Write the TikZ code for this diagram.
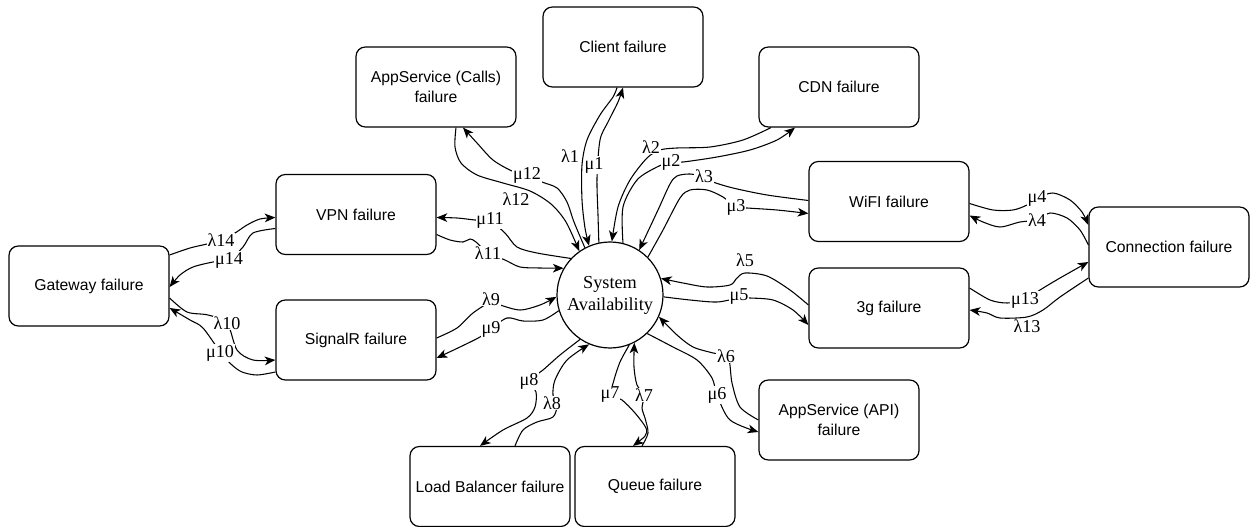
\documentclass[tikz,border=0pt]{standalone}
\usepackage{fontspec}
\setmainfont{Liberation Serif}
\newfontfamily\boxfont{Liberation Sans}
\usetikzlibrary{calc,arrows.meta}
\begin{document}
\begin{tikzpicture}[x=0.75pt,y=-0.75pt,
  box/.style={draw, line width=0.9pt, rounded corners=7pt, minimum width=120pt,
    minimum height=60pt, inner sep=2pt, align=center,
    font=\boxfont\fontsize{11.8}{15}\selectfont},
  sysnode/.style={draw, circle, line width=0.9pt, minimum size=79.5pt, inner sep=0pt,
    align=center, font=\fontsize{13.7}{16.5}\selectfont},
  edge/.style={line width=0.8pt, -{Stealth[length=8pt,width=6.5pt,inset=2.2pt]}},
  rate/.style={fill=white, inner sep=0.6pt, font=\fontsize{13.6}{15}\selectfont}]
\useasboundingbox (0,0) rectangle (1258,527);

% states
\node[box] (client) at (623,47) {Client failure};
\node[box] (calls) at (436,87) {AppService (Calls)\\failure};
\node[box] (cdn) at (839,87) {CDN failure};
\node[box] (vpn) at (356,214.5) {VPN failure};
\node[box] (wifi) at (889,201.5) {WiFI failure};
\node[box] (conn) at (1169,247) {Connection failure};
\node[box] (gw) at (89,286) {Gateway failure};
\node[box] (g3) at (889,308) {3g failure};
\node[box] (sigr) at (356,340) {SignalR failure};
\node[box] (api) at (839,420) {AppService (API)\\failure};
\node[box] (lb) at (490,486.5) {Load Balancer failure};
\node[box] (queue) at (655,486.5) {Queue failure};
\node[sysnode] (sys) at (610,295) {System\\Availability};

% transitions
\draw[edge] plot[smooth] coordinates {($(client.south)+(-6,0)$) (613,97) (600,115) (587,140) (582,165) (582,200) (585,228) (sys.113)};
\draw[edge] plot[smooth] coordinates {(sys.102) (598,215) (597,178) (600,140) (608,122) (618,102) (client.south)};

\draw[edge] plot[smooth] coordinates {($(calls.south)+(20,0)$) (455,147) (461,163) (477,175) (503,183) (530,191) (551,204) (566,222) (sys.125)};
\draw[edge] plot[smooth] coordinates {(sys.118) (574,222) (567,202) (557,188) (542,182) (527,175) (512,171) (493,160) (477,143) ($(calls.south)+(27,0)$)};

\draw[edge] plot[smooth] coordinates {($(cdn.south)+(-68,0)$) (743,140) (710,147) (677,148) (660,150) (647,158) (630,180) (618,207) (sys.88)};
\draw[edge] plot[smooth] coordinates {(sys.76) (623,207) (637,180) (657,167) (671,162) (683,162) (717,157) (750,150) (777,140) ($(cdn.south)+(-44,0)$)};

\draw[edge] plot[smooth] coordinates {($(wifi.west)+(0,-1)$) (767,195) (733,188) (713,182) (704,177) (690,174) (677,176) (670,184) (658,210) (sys.57)};
\draw[edge] plot[smooth] coordinates {(sys.45) (663,230) (680,198) (690,190) (707,190) (723,197) (736,207) (747,208) (777,210) ($(wifi.west)+(0,12)$)};

\draw[edge] plot[smooth] coordinates {($(vpn.east)+(0,20)$) (450,240) (463,242) (470,239) (476,242) (488,253) (505,260) (520,267) (540,268) (sys.150)};
\draw[edge] plot[smooth] coordinates {(sys.137) (537,253) (517,247) (505,233) (490,221) (475,220) (457,218) ($(vpn.east)+(0,3)$)};

\draw[edge] plot[smooth] coordinates {($(sigr.east)+(0,-2)$) (457,328) (473,313) (491,302) (500,305) (520,310) (540,305) (sys.182)};
\draw[edge] plot[smooth] coordinates {(sys.197) (543,320) (523,321) (507,318) (491,329) (480,337) (460,347) ($(sigr.east)+(0,18)$)};

\draw[edge] plot[smooth] coordinates {($(gw.east)+(0,-31)$) (190,248) (207,244) (221,240) (235,233) (247,225) (260,219) ($(vpn.west)+(0,3)$)};
\draw[edge] plot[smooth] coordinates {($(vpn.west)+(0,14)$) (253,233) (243,247) (229,260) (213,262) (193,267) (180,275) ($(gw.east)+(0,1)$)};

\draw[edge] plot[smooth] coordinates {($(gw.east)+(0,12)$) (187,312) (208,315) (227,323) (237,350) (253,360) ($(sigr.west)+(0,20)$)};
\draw[edge] plot[smooth] coordinates {($(sigr.west)+(0,32)$) (257,375) (242,372) (232,365) (221,353) (203,328) (190,320) ($(gw.east)+(0,22)$)};

\draw[edge] plot[smooth] coordinates {($(wifi.east)+(0,2)$) (993,210) (1013,210) (1027,205) (1037,198) (1053,193) (1070,200) (1082,212) ($(conn.west)+(0,-22)$)};
\draw[edge] plot[smooth] coordinates {($(conn.west)+(0,-2)$) (1080,230) (1067,218) (1050,213) (1037,220) (1020,222) (1000,227) (983,222) ($(wifi.east)+(0,14)$)};

\draw[edge] plot[smooth] coordinates {($(g3.east)+(0,-20)$) (990,300) (1007,303) (1025,300) (1040,290) (1060,278) ($(conn.west)+(0,15)$)};
\draw[edge] plot[smooth] coordinates {($(conn.west)+(0,31)$) (1060,297) (1043,310) (1027,317) (1000,318) (987,313) ($(g3.east)+(0,2)$)};

\draw[edge] plot[smooth] coordinates {($(g3.west)+(0,-3)$) (790,290) (767,276) (745,273) (737,278) (730,285) (707,287) (683,283) (sys.18)};
\draw[edge] plot[smooth] coordinates {(sys.358) (690,300) (717,302) (739,298) (750,298) (773,300) (793,310) ($(g3.west)+(0,17)$)};

\draw[edge] plot[smooth] coordinates {(api.west) (740,407) (732,383) (728,357) (713,353) (693,347) (677,335) (sys.336)};
\draw[edge] plot[smooth] coordinates {(sys.314) (673,347) (697,360) (712,378) (717,395) (730,420) ($(api.west)+(0,12)$)};

\draw[edge] plot[smooth] coordinates {(sys.291) (620,362) (614,380) (611,395) (622,400) (635,413) (646,428) (645,436) ($(queue.north)+(-22,0)$)};
\draw[edge] plot[smooth] coordinates {($(queue.north)+(-13,0)$) (648,433) (645,418) (642,408) (644,395) (637,385) (634,367) (sys.297)};

\draw[edge] plot[smooth] coordinates {(sys.236) (560,355) (543,370) (529,381) (536,392) (535,407) (527,418) (503,430) ($(lb.north)+(-10,0)$)};
\draw[edge] plot[smooth] coordinates {($(lb.north)+(25,0)$) (523,430) (537,422) (553,417) (557,405) (553,395) (555,380) (567,360) (sys.247)};

% rates
\node[rate] (l1) at (570,156) {λ1};
\node[rate] (m1) at (594,165) {μ1};
\node[rate] (l12) at (516,199) {λ12};
\node[rate] (m12) at (527,175) {μ12};
\node[rate] (l2) at (651,147) {λ2};
\node[rate] (m2) at (671,162) {μ2};
\node[rate] (l3) at (704,176) {λ3};
\node[rate] (m3) at (736,207) {μ3};
\node[rate] (m11) at (490,220) {μ11};
\node[rate] (l11) at (488,253) {λ11};
\node[rate] (l9) at (491,299) {λ9};
\node[rate] (m9) at (491,329) {μ9};
\node[rate] (l14) at (221,240) {λ14};
\node[rate] (m14) at (229,260) {μ14};
\node[rate] (l10) at (227,323) {λ10};
\node[rate] (m10) at (220,353) {μ10};
\node[rate] (m4) at (1037,198) {μ4};
\node[rate] (l4) at (1037,220) {λ4};
\node[rate] (m13) at (1025,300) {μ13};
\node[rate] (l13) at (1027,326) {λ13};
\node[rate] (l5) at (745,260) {λ5};
\node[rate] (m5) at (739,297) {μ5};
\node[rate] (l6) at (726,356) {λ6};
\node[rate] (m6) at (717,395) {μ6};
\node[rate] (m7) at (610,395) {μ7};
\node[rate] (l7) at (644,395) {λ7};
\node[rate] (m8) at (529,381) {μ8};
\node[rate] (l8) at (552,403) {λ8};
\end{tikzpicture}
\end{document}
